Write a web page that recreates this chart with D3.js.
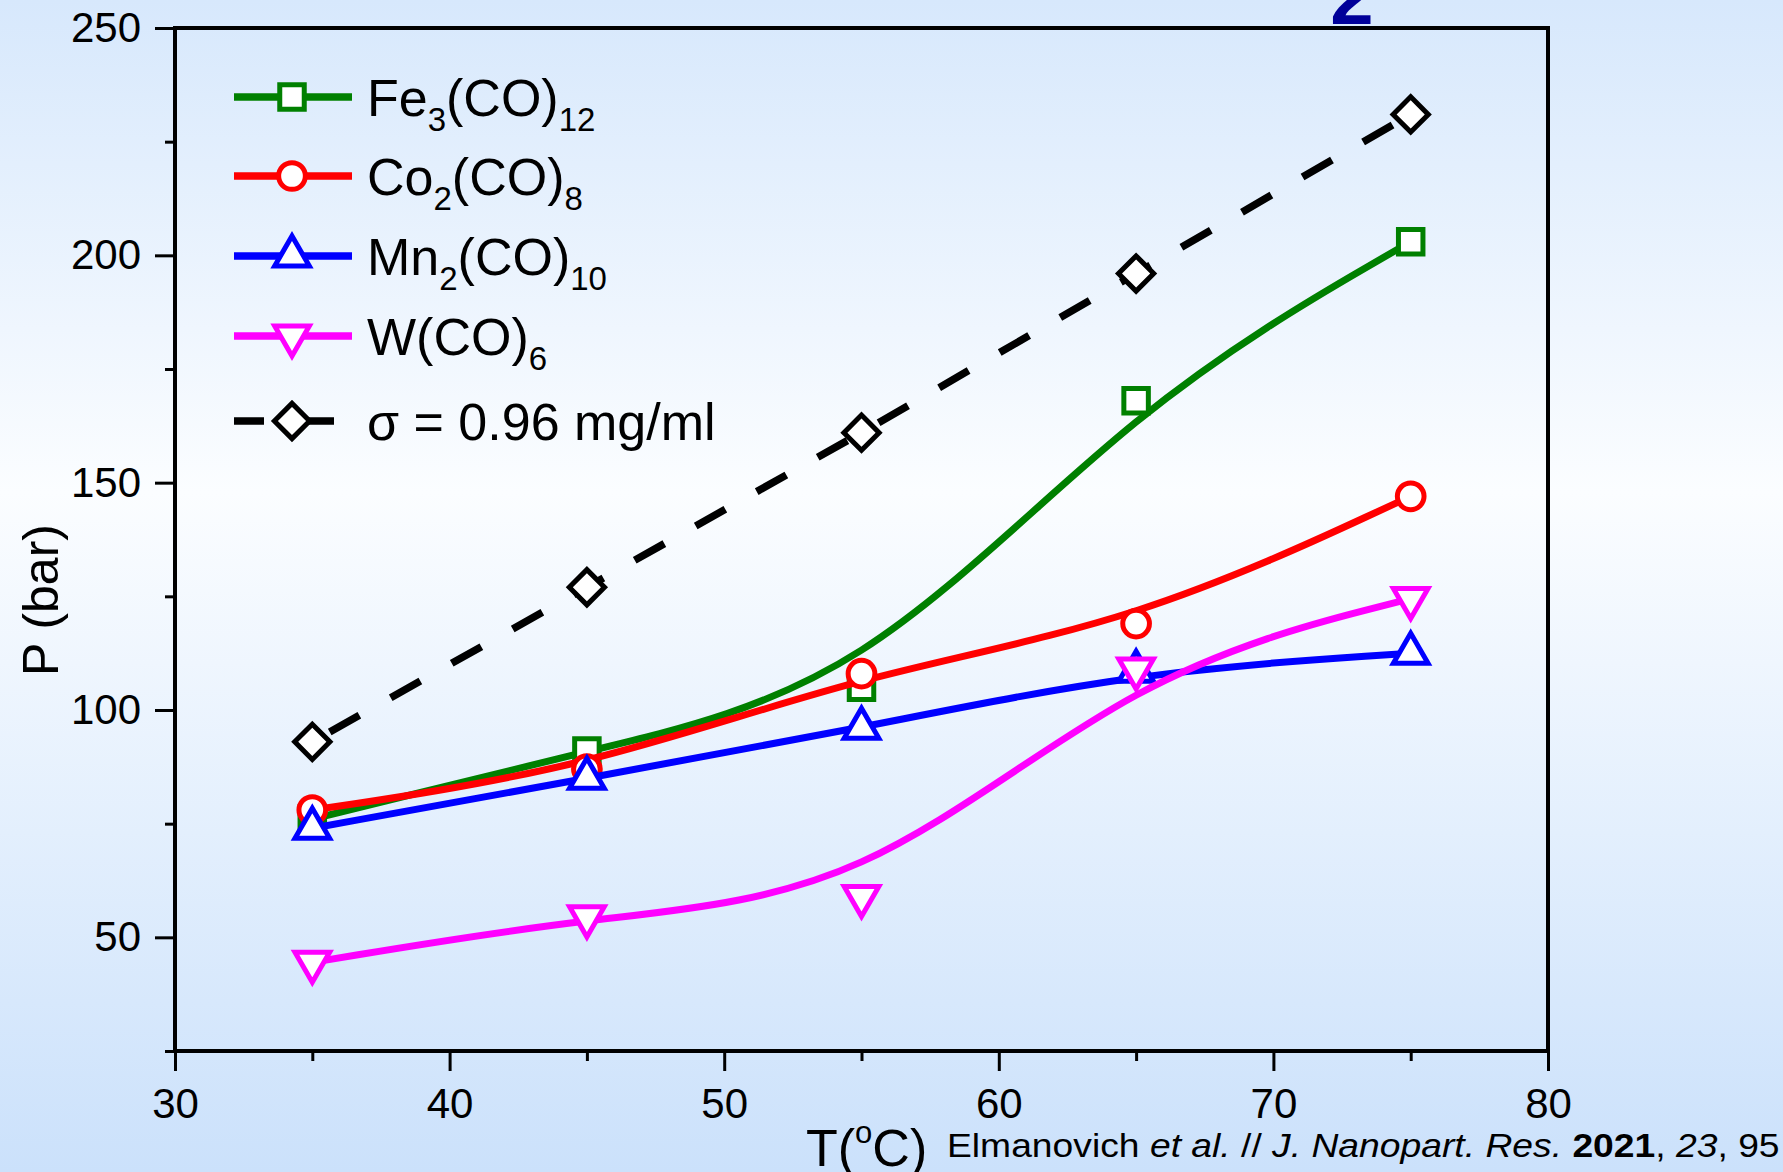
<!DOCTYPE html>
<html>
<head>
<meta charset="utf-8">
<script src="https://cdn.jsdelivr.net/npm/d3@7"></script>
<style>
  html, body { margin: 0; padding: 0; overflow: hidden; }
  svg { display: block; }
</style>
</head>
<body>
<script>
// --- data ---
const temps = [35, 45, 55, 65, 75];
const fe3co12 = [76, 91, 105, 168, 203];
const co2co8 = [78, 87, 108, 119, 147];
const mn2co10 = [74, 85, 96, 108.5, 112.5];
const wco6 = [44.5, 54.5, 59, 109, 124.5];
const sigma096 = [93, 127, 161, 196, 231];

const xTicks = [30, 40, 50, 60, 70, 80];
const xMinor = [35, 45, 55, 65, 75];
const yTicks = [50, 100, 150, 200, 250];
const yMinor = [25, 75, 125, 175, 225];

// name parts: [text, isSubscript]
const seriesInfo = [
  { parts: [["Fe", 0], ["3", 1], ["(CO)", 0], ["12", 1]], values: fe3co12, color: "#008000", symbol: "square" },
  { parts: [["Co", 0], ["2", 1], ["(CO)", 0], ["8", 1]], values: co2co8, color: "#ff0000", symbol: "circle" },
  { parts: [["Mn", 0], ["2", 1], ["(CO)", 0], ["10", 1]], values: mn2co10, color: "#0000ff", symbol: "up" },
  { parts: [["W(CO)", 0], ["6", 1]], values: wco6, color: "#ff00ff", symbol: "down" },
  { parts: [["\u03c3 = 0.96 mg/ml", 0]], values: sigma096, color: "#000000", symbol: "diamond", dashed: true }
];

const W = 1783, H = 1172;
const font = "'Liberation Sans', Arial, sans-serif";
const plot = { left: 175, right: 1548, top: 28, bottom: 1051 };

const svg = d3.select("body").append("svg").attr("width", W).attr("height", H)
  .style("font-family", font);

// background gradient
const grad = svg.append("defs").append("linearGradient").attr("id", "bg")
  .attr("x1", 0).attr("y1", 0).attr("x2", 0).attr("y2", 1);
grad.append("stop").attr("offset", 0).attr("stop-color", "#d7e8fc");
grad.append("stop").attr("offset", 0.42).attr("stop-color", "#fbfdff");
grad.append("stop").attr("offset", 1).attr("stop-color", "#cbe1fb");
svg.append("rect").attr("width", W).attr("height", H).attr("fill", "url(#bg)");

// partial glyph at the top edge
svg.append("text").attr("x", 1352).attr("y", 24).attr("text-anchor", "middle")
  .attr("font-size", 78).attr("font-weight", "bold").attr("fill", "#000099").text("2");

const x = d3.scaleLinear().domain([30, 80]).range([plot.left, plot.right]);
const y = d3.scaleLinear().domain([25, 250]).range([plot.bottom, plot.top]);

// axes
svg.append("g").attr("transform", `translate(0,${plot.bottom})`)
  .call(d3.axisBottom(x).tickValues(xTicks).tickSize(20).tickPadding(17).tickFormat(d3.format("d")));
svg.append("g").attr("transform", `translate(0,${plot.bottom})`)
  .call(d3.axisBottom(x).tickValues(xMinor).tickSize(10).tickFormat(""));
svg.append("g").attr("transform", `translate(${plot.left},0)`)
  .call(d3.axisLeft(y).tickValues(yTicks).tickSize(20).tickPadding(14).tickFormat(d3.format("d")));
svg.append("g").attr("transform", `translate(${plot.left},0)`)
  .call(d3.axisLeft(y).tickValues(yMinor).tickSize(10).tickFormat(""));

svg.selectAll(".domain").remove();
svg.selectAll(".tick line").attr("stroke", "#000").attr("stroke-width", 3);
svg.selectAll(".tick text").attr("font-family", font).attr("font-size", 42).attr("fill", "#000");

// frame
svg.append("rect").attr("x", plot.left).attr("y", plot.top)
  .attr("width", plot.right - plot.left).attr("height", plot.bottom - plot.top)
  .attr("fill", "none").attr("stroke", "#000").attr("stroke-width", 4);

// axis titles
svg.append("text").attr("transform", `translate(58,600) rotate(-90)`)
  .attr("text-anchor", "middle").attr("font-size", 50).text("P (bar)");

const tLab = svg.append("text").attr("x", 806).attr("y", 1166).attr("font-size", 52);
tLab.append("tspan").text("T(");
tLab.append("tspan").attr("font-size", 31).attr("dy", -23).text("o");
tLab.append("tspan").attr("dy", 23).text("C)");

// citation
const cite = svg.append("text").attr("x", 947).attr("y", 1157).attr("font-size", 34);
cite.append("tspan").text("Elmanovich ");
cite.append("tspan").attr("font-style", "italic").text("et al.");
cite.append("tspan").text(" // ");
cite.append("tspan").attr("font-style", "italic").text("J. Nanopart. Res.");
cite.append("tspan").text(" ");
cite.append("tspan").attr("font-weight", "bold").text("2021");
cite.append("tspan").text(", ");
cite.append("tspan").attr("font-style", "italic").text("23");
cite.append("tspan").text(", 95");
const cw = cite.node().getBBox().width;
cite.attr("transform", `translate(947,0) scale(${833 / cw},1) translate(-947,0)`);

// markers
function markerPath(kind) {
  if (kind === "square") return d3.symbol(d3.symbolSquare, 600)();
  if (kind === "circle") return d3.symbol(d3.symbolCircle, 560)();
  if (kind === "up" || kind === "down") return d3.symbol(d3.symbolTriangle, 520)();
  return d3.symbol(d3.symbolSquare, 620)();
}
function markerRot(kind) {
  if (kind === "down") return 180;
  if (kind === "diamond") return 45;
  return 0;
}

const smooth = d3.line().x((d, i) => x(temps[i])).y(d => y(d)).curve(d3.curveBasis);
const straight = d3.line().x((d, i) => x(temps[i])).y(d => y(d));

seriesInfo.forEach(s => {
  const g = svg.append("g");
  g.append("path").attr("d", s.dashed ? straight(s.values) : smooth(s.values))
    .attr("fill", "none").attr("stroke", s.color)
    .attr("stroke-width", s.dashed ? 7.5 : 7)
    .attr("stroke-dasharray", s.dashed ? "34,36" : null)
    .attr("stroke-dashoffset", s.dashed ? -20 : null);
  g.selectAll("path.m").data(s.values).join("path").attr("class", "m")
    .attr("d", markerPath(s.symbol))
    .attr("transform", (d, i) => `translate(${x(temps[i])},${y(d)}) rotate(${markerRot(s.symbol)})`)
    .attr("fill", "#fff").attr("stroke", s.color).attr("stroke-width", 5);
});

// legend
const legRows = [97, 176, 256, 336, 421];
const leg = svg.append("g");
seriesInfo.forEach((s, i) => {
  const ry = legRows[i];
  leg.append("line").attr("x1", 234).attr("x2", s.dashed ? 334 : 352).attr("y1", ry).attr("y2", ry)
    .attr("stroke", s.color).attr("stroke-width", 7.5)
    .attr("stroke-dasharray", s.dashed ? "30,40" : null);
  leg.append("path").attr("d", markerPath(s.symbol))
    .attr("transform", `translate(292,${ry}) rotate(${markerRot(s.symbol)})`)
    .attr("fill", "#fff").attr("stroke", s.color).attr("stroke-width", 5);
  const t = leg.append("text").attr("x", 367).attr("y", ry + 19).attr("font-size", 52);
  let shifted = false;
  s.parts.forEach(([txt, sub]) => {
    const ts = t.append("tspan").text(txt);
    if (sub) { ts.attr("font-size", 33); if (!shifted) { ts.attr("dy", 15); shifted = true; } }
    else if (shifted) { ts.attr("dy", -15); shifted = false; }
  });
});
</script>
</body>
</html>
